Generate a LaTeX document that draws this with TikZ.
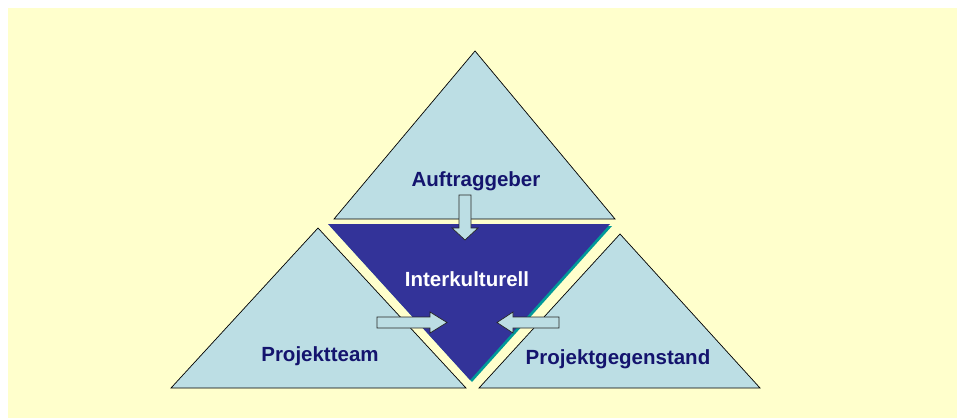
\documentclass[tikz,border=0pt]{standalone}
\usepackage{fontspec}
\setmainfont{Liberation Sans}

\definecolor{bgyellow}{RGB}{255,255,204}
\definecolor{triblue}{RGB}{188,222,228}
\definecolor{deepblue}{RGB}{51,51,153}
\definecolor{shadowteal}{RGB}{0,153,153}
\definecolor{navytext}{RGB}{20,20,110}

\begin{document}
\begin{tikzpicture}[x=1pt,y=1pt,
  tri/.style={draw=black,line width=0.7pt,fill=triblue,line join=miter},
  blockarrow/.style={draw=black!85,line width=0.7pt,fill=triblue},
  lbl/.style={font=\fontsize{20.5}{24}\selectfont\bfseries,text=navytext,inner sep=0pt,anchor=base}]
  \useasboundingbox (0,0) rectangle (957,-418);
  \fill [bgyellow] (8,-8) rectangle (957,-418);
  % outer triangles
  \draw [tri] (475,-51) -- (615,-219) -- (334,-219) -- cycle;
  \draw [tri] (318,-228) -- (466,-388) -- (171,-388) -- cycle;
  \draw [tri] (620,-234) -- (760,-388) -- (479,-388) -- cycle;
  % centre triangle with its shadow
  \fill [shadowteal] (330,-226) -- (612,-226) -- (472,-382) -- cycle;
  \fill [deepblue] (328,-224) -- (610,-224) -- (470,-380) -- cycle;
  % labels
  \node [lbl] (auftrag) at (476,-186) {Auftraggeber};
  \node [lbl,text=white] (inter) at (467,-286) {Interkulturell};
  \node [lbl] (team) at (320,-361) {Projektteam};
  \node [lbl] (gegenstand) at (618,-364) {Projektgegenstand};
  % block arrows
  \draw [blockarrow] (459,-195) -- (471,-195) -- (471,-228) -- (478,-228)
    -- (465,-240) -- (452,-228) -- (459,-228) -- cycle;
  \draw [blockarrow] (377,-317) -- (430,-317) -- (430,-312) -- (447,-322.5)
    -- (430,-333) -- (430,-328) -- (377,-328) -- cycle;
  \draw [blockarrow] (559,-317) -- (513,-317) -- (513,-312) -- (497,-322.5)
    -- (513,-333) -- (513,-328) -- (559,-328) -- cycle;
\end{tikzpicture}
\end{document}
